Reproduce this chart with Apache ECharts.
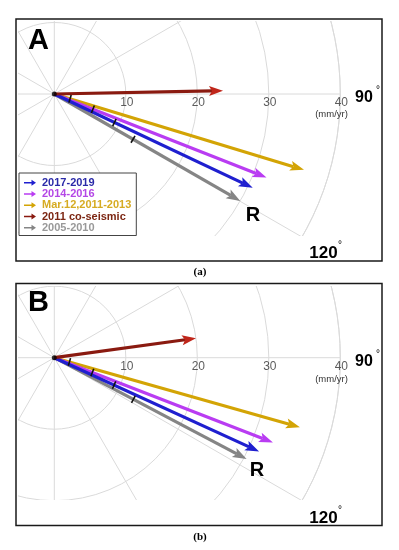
<!DOCTYPE html>
<html><head><meta charset="utf-8">
<script src="https://cdn.jsdelivr.net/npm/echarts@6/dist/echarts.min.js"></script>
<style>
html,body{margin:0;padding:0;background:#fff;}
#bg{position:absolute;left:0;top:0;width:399px;height:550px;z-index:5;pointer-events:none;}
#pa{position:absolute;left:18px;top:21px;width:364px;height:215px;z-index:1;}
#pb{position:absolute;left:18px;top:286px;width:364px;height:214px;z-index:1;}
</style></head><body>
<div id="pa"></div><div id="pb"></div><div id="bg"></div>
<script>
// ---- data ----
const seriesNames = ['2017-2019', '2014-2016', 'Mar.12,2011-2013', '2011 co-seismic', '2005-2010'];
// panel A: rate (mm/yr) and azimuth (deg)
const rateA = [30.7, 31.9, 36.5, 23.6, 30.0];
const azimA = [115.3, 111.5, 106.9, 88.9, 119.9];
// panel B
const rateB = [31.5, 32.8, 35.7, 20.0, 30.4];
const azimB = [114.6, 111.2, 105.8, 82.2, 117.8];
// small black marks on arrows (radius, mm/yr) for [2017-2019, 2014-2016, Mar.12,2011-2013, -, 2005-2010]
const markA = [9.3, 5.8, 2.3, null, 12.7];
const markB = [9.2, 5.7, 2.2, null, 12.5];
const radiusTicks = [10, 20, 30, 40];
const radiusTickLabels = ['10', '20', '30', '40'];

// ---- styles ----
const arrowColors = ['#1f1fcf', '#b93cf2', '#d3a405', '#c0261a', '#858585'];
const shaftColors = ['#1f1fcf', '#b93cf2', '#d3a405', '#8a1a10', '#858585'];
const legendTextColors = ['#2a2aa8', '#b447e6', '#d6ab22', '#7c2612', '#999999'];
const drawOrder = [4, 2, 1, 0, 3];
const FONT = 'Liberation Sans';
const PXPERUNIT = 7.15;

function arrowRender(params, api) {
  const idx = api.value(2);
  const r = api.value(0), a = api.value(1);
  const p0 = api.coord([0, a]);
  const p1 = api.coord([r, a]);
  const dx = p1[0] - p0[0], dy = p1[1] - p0[1];
  const L = Math.hypot(dx, dy);
  const ux = dx / L, uy = dy / L, nx = -uy, ny = ux;
  const hl = 14, hw = 5;
  const bx = p1[0] - ux * hl, by = p1[1] - uy * hl;
  return {
    type: 'group',
    children: [
      { type: 'line', shape: { x1: p0[0], y1: p0[1], x2: bx + ux * 3, y2: by + uy * 3 },
        style: { stroke: shaftColors[idx], lineWidth: 3.2, lineCap: 'butt' } },
      { type: 'polygon', shape: { points: [[p1[0], p1[1]], [bx + nx * hw, by + ny * hw], [bx + ux * 3, by + uy * 3], [bx - nx * hw, by - ny * hw]] },
        style: { fill: arrowColors[idx] } }
    ]
  };
}

function markRender(params, api) {
  const r = api.value(0), a = api.value(1);
  const p0 = api.coord([0, a]);
  const p = api.coord([r, a]);
  const dx = p[0] - p0[0], dy = p[1] - p0[1];
  const L = Math.hypot(dx, dy);
  const nx = -dy / L, ny = dx / L;
  return { type: 'line', shape: { x1: p[0] - nx * 4, y1: p[1] - ny * 4, x2: p[0] + nx * 4, y2: p[1] + ny * 4 },
    style: { stroke: '#111', lineWidth: 1.6 } };
}

function buildPolar(center, rates, azims, marks, withLegend) {
  const grid = '#dadada';
  const series = [];
  drawOrder.forEach(function (i) {
    series.push({
      type: 'custom', name: seriesNames[i], coordinateSystem: 'polar', z: 3,
      itemStyle: { color: arrowColors[i] },
      renderItem: arrowRender,
      data: [[rates[i], azims[i], i]]
    });
  });
  const markData = [];
  marks.forEach(function (m, i) { if (m != null) markData.push([m, azims[i]]); });
  series.push({ type: 'custom', coordinateSystem: 'polar', z: 4, renderItem: markRender, data: markData, silent: true });
  series.push({
    type: 'scatter', coordinateSystem: 'polar', symbolSize: 0, z: 2, silent: true,
    data: radiusTicks.map(function (t) { return [t, 90]; }),
    label: { show: true, position: 'bottom', distance: 3, offset: [1, 0], color: '#333', fontSize: 12, fontFamily: FONT,
      formatter: function (p) { return radiusTickLabels[p.dataIndex]; } }
  });
  series.push({ type: 'scatter', coordinateSystem: 'polar', symbolSize: 5, z: 6, silent: true,
    itemStyle: { color: '#000' }, data: [[0, 0]] });
  const opt = {
    animation: false,
    polar: { center: center, radius: 40 * PXPERUNIT },
    angleAxis: { type: 'value', min: 0, max: 360, interval: 30, startAngle: 90, clockwise: true,
      axisLine: { show: true, lineStyle: { color: grid, width: 1 } },
      axisTick: { show: false }, axisLabel: { show: false },
      splitLine: { show: true, lineStyle: { color: grid, width: 1 } } },
    radiusAxis: { type: 'value', min: 0, max: 40, interval: 10,
      axisLine: { show: false }, axisTick: { show: false }, axisLabel: { show: false },
      splitLine: { show: true, lineStyle: { color: grid, width: 1 } } },
    series: series
  };
  if (withLegend) {
    opt.legend = {
      orient: 'vertical', left: 1, top: 152, itemWidth: 14, itemHeight: 6, itemGap: 0,
      padding: [4, 5, 2, 5], backgroundColor: '#fff', borderColor: '#444', borderWidth: 1, borderRadius: 0,
      textStyle: { fontFamily: FONT, fontWeight: 'bold', fontSize: 11, lineHeight: 11.3 },
      data: seriesNames.map(function (n, i) {
        return { name: n, icon: 'path://M0,4 L10,4 L10,1 L16,5 L10,9 L10,6 L0,6 Z',
          itemStyle: { color: shaftColors[i] }, textStyle: { color: legendTextColors[i] } };
      })
    };
  }
  return opt;
}

const chartA = echarts.init(document.getElementById('pa'), null, { renderer: 'canvas' });
chartA.setOption(buildPolar([54.3 - 18, 94 - 21], rateA, azimA, markA, true));
const chartB = echarts.init(document.getElementById('pb'), null, { renderer: 'canvas' });
chartB.setOption(buildPolar([54.3 - 18, 357.7 - 286], rateB, azimB, markB, false));

// overlay: frames, panel letters, direction labels, captions
function txt(x, y, s, size, weight, extra) {
  return Object.assign({ type: 'text', x: x, y: y, z: 10,
    style: { text: s, fontSize: size, fontWeight: weight, fontFamily: FONT, fill: '#000', align: 'center', verticalAlign: 'middle' } }, extra || {});
}
function deg(x, y) { return txt(x, y, '°', 10, 'normal'); }
const bgGraphics = [
  { type: 'rect', shape: { x: 16, y: 19, width: 366, height: 242 }, style: { fill: 'none', stroke: '#1a1a1a', lineWidth: 1.5 } },
  { type: 'rect', shape: { x: 16, y: 283.5, width: 366, height: 242 }, style: { fill: 'none', stroke: '#1a1a1a', lineWidth: 1.5 } },
  txt(38.5, 41, 'A', 29, 'bold'),
  txt(38.5, 303, 'B', 29, 'bold'),
  txt(364, 98, '90', 16, 'bold'), deg(378, 90),
  txt(323.5, 253, '120', 17, 'bold'), deg(340, 245),
  txt(253, 215, 'R', 20, 'bold'),
  txt(364, 362, '90', 16, 'bold'), deg(378, 354),
  txt(323.5, 518, '120', 17, 'bold'), deg(340, 510),
  txt(257, 470.5, 'R', 20, 'bold'),
  txt(331.5, 114, '(mm/yr)', 9.5, 'normal', {}),
  txt(331.5, 379, '(mm/yr)', 9.5, 'normal', {}),
  txt(200, 272, '(a)', 11, 'bold'),
  txt(200, 537, '(b)', 11, 'bold')
];
bgGraphics[bgGraphics.length - 2].style.fontFamily = 'Liberation Serif';
bgGraphics[bgGraphics.length - 1].style.fontFamily = 'Liberation Serif';
bgGraphics[bgGraphics.length - 3].style.fill = '#333';
bgGraphics[bgGraphics.length - 4].style.fill = '#333';
const chartBg = echarts.init(document.getElementById('bg'));
chartBg.setOption({ animation: false, graphic: { elements: bgGraphics } });
</script>
</body></html>
